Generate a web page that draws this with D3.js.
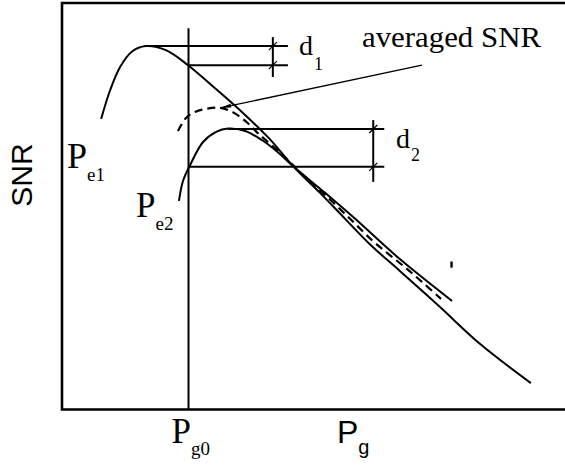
<!DOCTYPE html>
<html>
<head>
<meta charset="utf-8">
<script src="https://cdn.jsdelivr.net/npm/d3@7"></script>
<style>
  html, body { margin: 0; padding: 0; background: #fff; }
  svg { display: block; }
</style>
</head>
<body>
<svg id="chart" width="565" height="466"></svg>
<script>
// SNR versus gain power for two error powers, plus their average
const pe1 = [[7.8,71.5],[9.6,78.6],[11.6,84.3],[13.9,88.0],[16.7,89.4],[20.7,88.4],[25.1,84.7],
             [30.9,78.6],[36.1,72.9],[41.4,66.5],[46.0,59.9],[51.4,53.3],[56.4,46.9],[61.7,40.2],
             [67.3,34.1],[75.3,25.2],[83.3,16.1],[93.4,6.5]];
const pe2 = [[23.3,51.3],[24.1,56.2],[25.5,60.1],[28.1,65.8],[30.7,68.3],[33.1,69.1],[36.5,68.5],
             [39.8,66.3],[43.0,63.3],[46.0,59.9],[52.4,53.3],[58.4,46.9],[67.3,37.0],[77.7,26.7]];
const averaged = [[23.1,68.5],[24.7,71.7],[26.5,73.2],[28.9,74.0],[31.5,74.2],[33.9,73.2],[36.5,71.0],
                  [39.0,68.0],[42.4,64.3],[45.8,60.4],[49.0,56.5],[52.4,52.8],[57.4,46.9],[61.7,41.7],
                  [65.3,38.0],[68.7,34.6],[71.7,31.4],[75.5,27.2]];

// operating gain power
const pg0 = 25.2;

// d1: drop of the Pe1 curve from its peak to its value at Pg0
const d1Peak = [16.7, 89.4];
const d1AtPg0 = 84.7;
const d1End = 45.0;
const d1Bar = [42.0, 91.6, 81.8];

// d2: drop of the Pe2 curve from its peak to its value at Pg0
const d2Peak = [33.1, 69.0];
const d2AtPg0 = 59.7;
const d2End = 64.2;
const d2Bar = [62.0, 71.2, 56.0];

// leader from the "averaged SNR" caption to the dashed curve
const leader = [[71.7, 84.7], [31.5, 74.2]];
const strayMark = [77.6, 36.4, 34.9];
const pg0Top = 93.8;

const SERIF = '"Liberation Serif", "Times New Roman", Times, serif';
const SANS = '"Liberation Sans", Arial, Helvetica, sans-serif';

const W = 565, H = 466;
const svg = d3.select("#chart");
const x = d3.scaleLinear().domain([0, 100]).range([62, 564]);
const y = d3.scaleLinear().domain([0, 100]).range([409.5, 3]);

const line = d3.line().x(d => x(d[0])).y(d => y(d[1])).curve(d3.curveCatmullRom.alpha(0.5));

// frame (right side runs past the edge)
svg.append("path")
  .attr("d", `M${W + 5},${y(100)}H${x(0)}V${y(0)}H${W + 5}`)
  .attr("fill", "none").attr("stroke", "#000").attr("stroke-width", 2.6);

// Pg0 marker line
svg.append("line")
  .attr("x1", x(pg0)).attr("x2", x(pg0))
  .attr("y1", y(0)).attr("y2", y(pg0Top))
  .attr("stroke", "#000").attr("stroke-width", 2);

// curves
svg.append("path").attr("d", line(pe1))
  .attr("fill", "none").attr("stroke", "#000").attr("stroke-width", 2);
svg.append("path").attr("d", line(pe2))
  .attr("fill", "none").attr("stroke", "#000").attr("stroke-width", 2);
svg.append("path").attr("d", line(averaged))
  .attr("fill", "none").attr("stroke", "#000").attr("stroke-width", 2.2)
  .attr("stroke-dasharray", "8,5");

// dimension lines
function dimension(peak, atPg0, end, bar) {
  const g = svg.append("g").attr("stroke", "#000");
  g.append("line").attr("x1", x(peak[0])).attr("x2", x(end))
    .attr("y1", y(peak[1])).attr("y2", y(peak[1])).attr("stroke-width", 2);
  g.append("line").attr("x1", x(pg0)).attr("x2", x(end))
    .attr("y1", y(atPg0)).attr("y2", y(atPg0)).attr("stroke-width", 2);
  g.append("line").attr("x1", x(bar[0])).attr("x2", x(bar[0]))
    .attr("y1", y(bar[1])).attr("y2", y(bar[2])).attr("stroke-width", 2);
  [peak[1], atPg0].forEach(v => {
    const cx = x(bar[0]), cy = y(v);
    g.append("line").attr("x1", cx - 4).attr("y1", cy + 4)
      .attr("x2", cx + 4).attr("y2", cy - 4).attr("stroke-width", 1.2);
  });
}
dimension(d1Peak, d1AtPg0, d1End, d1Bar);
dimension(d2Peak, d2AtPg0, d2End, d2Bar);

// leader line with a slim arrow tip
const lx1 = x(leader[0][0]), ly1 = y(leader[0][1]);
const lx2 = x(leader[1][0]), ly2 = y(leader[1][1]);
svg.append("line").attr("x1", lx1).attr("y1", ly1).attr("x2", lx2).attr("y2", ly2)
  .attr("stroke", "#000").attr("stroke-width", 1.3);
{
  const ang = Math.atan2(ly1 - ly2, lx1 - lx2);
  const len = 11, half = 2;
  const bx = lx2 + len * Math.cos(ang), by = ly2 + len * Math.sin(ang);
  const px = -Math.sin(ang) * half, py = Math.cos(ang) * half;
  svg.append("path")
    .attr("d", `M${lx2},${ly2}L${bx + px},${by + py}L${bx - px},${by - py}Z`)
    .attr("fill", "#000");
}

// small stray tick
svg.append("line")
  .attr("x1", x(strayMark[0])).attr("x2", x(strayMark[0]))
  .attr("y1", y(strayMark[1])).attr("y2", y(strayMark[2]))
  .attr("stroke", "#000").attr("stroke-width", 2.4);

// labels
function subLabel(family, px, py, main, sub, size, subSize, dy, dx) {
  const t = svg.append("text").attr("font-family", family)
    .attr("x", px).attr("y", py).attr("font-size", size).attr("fill", "#000");
  t.append("tspan").text(main);
  t.append("tspan").attr("font-size", subSize).attr("dy", dy).attr("dx", dx || 0).text(sub);
}
subLabel(SERIF, 67, 168, "P", "e1", 36, 19, 13);
subLabel(SERIF, 136, 217, "P", "e2", 35, 19, 13);
subLabel(SERIF, x(pg0) - 17, 443, "P", "g0", 35, 19, 12);
subLabel(SANS, 337, 443, "P", "g", 32, 20, 11);
subLabel(SERIF, 299, 55, "d", "1", 28, 18, 15, 1);
subLabel(SERIF, 396, 148, "d", "2", 28, 18, 13, 1);

svg.append("text").attr("font-family", SERIF)
  .attr("x", 362).attr("y", 47).attr("font-size", 30)
  .attr("textLength", 179).attr("lengthAdjust", "spacingAndGlyphs")
  .text("averaged SNR");

svg.append("text").attr("font-family", SANS)
  .attr("transform", "translate(32,175) rotate(-90)")
  .attr("text-anchor", "middle").attr("font-size", 30)
  .text("SNR");
</script>
</body>
</html>
